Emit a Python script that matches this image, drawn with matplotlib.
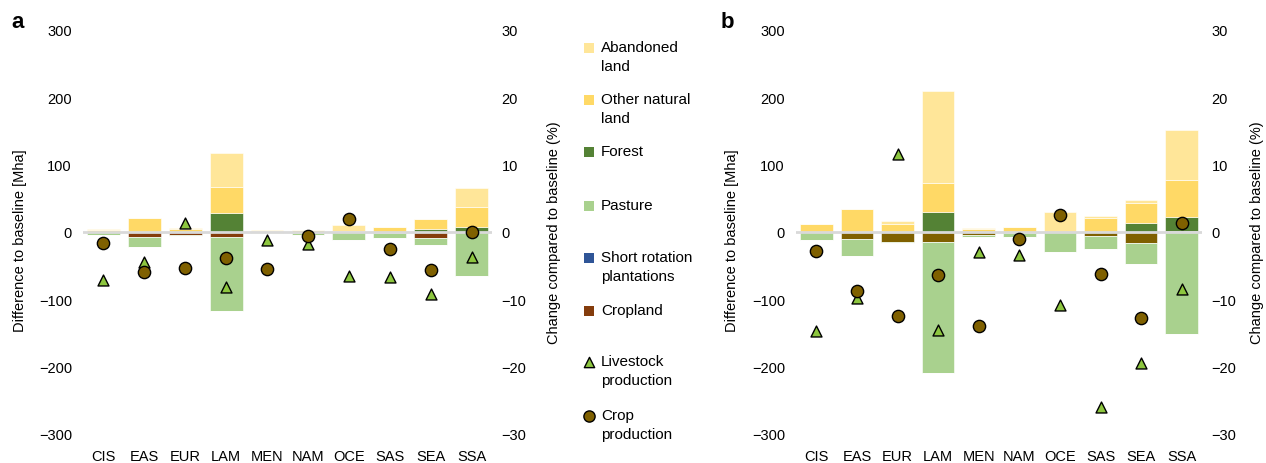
import matplotlib
matplotlib.use("Agg")
import matplotlib.pyplot as plt
import numpy as np

plt.rcParams['font.family'] = ['Liberation Sans', 'DejaVu Sans']

regions = ["CIS", "EAS", "EUR", "LAM", "MEN", "NAM", "OCE", "SAS", "SEA", "SSA"]

# ---- Panel a (Mha) ----
a_abandoned = [1.5, 0, 2, 50, 1, 0, 9, 1, 0, 27.5]
a_other     = [3, 21, 4.5, 39, 1.5, 3.5, 2, 7, 14.5, 29.5]
a_forest    = [0, 0, 0, 28, 0, 0, 0, 0, 5, 8]
a_pasture   = [-3.5, -15, -1.5, -109, -1, -3, -12, -7.5, -10.5, -65]
a_srp       = [0, 0, 0, 0, 0, 0, 0, 0, 0, 0]
a_cropland  = [-0.5, -7, -4, -8, -1, -1, 0, -1, -9.5, 0]
a_livestock = [-7.2, -4.4, 1.4, -8.1, -1.25, -1.75, -6.5, -6.65, -9.2, -3.7]
a_crop      = [-1.6, -5.9, -5.4, -3.8, -5.55, -0.65, 1.9, -2.5, -5.65, 0.0]

# ---- Panel b (Mha) ----
b_abandoned = [0, 0, 4, 136, 1.5, 0, 29.5, 3, 4, 75]
b_other     = [12, 34.5, 12, 43.5, 5, 7.5, 0, 21.5, 30, 54]
b_forest    = [0, 0, 0, 29.5, 0, 0, 0, 0, 13.5, 21]
b_pasture   = [-12, -24, -2, -194.5, -2, -5.5, -30, -19, -31, -152]
b_srp       = [0, 0, 0, 0, 0, 0, 0, 0, 0, 0]
b_cropland  = [0, -11, -14.5, -14.5, -5, -2, 0, -6, -17, 1.5]
b_livestock = [-14.7, -9.8, 11.6, -14.6, -3.0, -3.4, -10.85, -25.95, -19.5, -8.4]
b_crop      = [-2.75, -8.7, -12.5, -6.35, -13.95, -1.0, 2.55, -6.25, -12.75, 1.3]

legend_labels = ["Abandoned\nland", "Other natural\nland", "Forest", "Pasture",
                 "Short rotation\nplantations", "Cropland", "Livestock\nproduction",
                 "Crop\nproduction"]

C_ABAND = "#FFE699"
C_OTHER = "#FFD966"
C_FOREST = "#548235"
C_PASTURE = "#A9D18E"
C_SRP = "#2F5597"
C_CROP_A = "#843C0C"
C_CROP_B = "#7F6000"
C_LIVE = "#8DC63F"
C_CROPPROD = "#7F6000"

W, H = 1266, 464
fig = plt.figure(figsize=(W / 100, H / 100), dpi=100)

FS = 10.5


def panel(left_px, right_px, data, crop_color):
    bottom_px, top_px = 435, 31
    ax = fig.add_axes([left_px / W, 1 - bottom_px / H, (right_px - left_px) / W,
                       (bottom_px - top_px) / H])
    x = np.arange(len(regions))
    abandoned, other, forest, pasture, srp, cropland, livestock, crop = data
    layers = [(cropland, crop_color), (srp, C_SRP), (pasture, C_PASTURE),
              (forest, C_FOREST), (other, C_OTHER), (abandoned, C_ABAND)]
    pos = np.zeros(len(regions))
    neg = np.zeros(len(regions))
    for vals, col in layers:
        v = np.array(vals, dtype=float)
        vp = np.where(v > 0, v, 0)
        vn = np.where(v < 0, v, 0)
        ax.bar(x, vp, bottom=pos, width=0.8, color=col, edgecolor='white',
               linewidth=0.4, zorder=2)
        ax.bar(x, vn, bottom=neg, width=0.8, color=col, edgecolor='white',
               linewidth=0.4, zorder=2)
        pos += vp
        neg += vn
    ax.axhline(0, color='#D9D9D9', lw=2.0, zorder=3)
    ax.set_xlim(-0.5, 9.5)
    ax.set_ylim(-300, 300)
    ax.set_yticks(np.arange(-300, 301, 100))
    ax.set_xticks(x)
    ax.set_xticklabels(regions)
    for s in ax.spines.values():
        s.set_visible(False)
    ax.tick_params(axis='both', length=0, labelsize=FS)
    ax.tick_params(axis='y', pad=8)
    ax.tick_params(axis='x', pad=11)
    ax.set_ylabel("Difference to baseline [Mha]", fontsize=FS)

    ax2 = ax.twinx()
    ax2.set_ylim(-30, 30)
    ax2.set_yticks(np.arange(-30, 31, 10))
    for s in ax2.spines.values():
        s.set_visible(False)
    ax2.tick_params(axis='y', length=0, labelsize=FS, pad=7)
    ax2.scatter(x, livestock, marker='^', s=62, color=C_LIVE, edgecolor='black',
                linewidth=1.0, zorder=5)
    ax2.scatter(x, crop, marker='o', s=78, color=C_CROPPROD, edgecolor='black',
                linewidth=1.0, zorder=6)
    ax2.set_ylabel("Change compared to baseline (%)", fontsize=FS)
    return ax, ax2


axa, axa2 = panel(83, 492, [a_abandoned, a_other, a_forest, a_pasture, a_srp,
                            a_cropland, a_livestock, a_crop], C_CROP_A)
axa.yaxis.set_label_coords((27 - 83) / 409, 0.48)
axa2.yaxis.set_label_coords((547 - 83) / 409, 0.5)

axb, axb2 = panel(796, 1202, [b_abandoned, b_other, b_forest, b_pasture, b_srp,
                              b_cropland, b_livestock, b_crop], C_CROP_B)
axb.yaxis.set_label_coords((739 - 796) / 406, 0.48)
axb2.yaxis.set_label_coords((1250 - 796) / 406, 0.5)

fig.text(11 / W, 1 - 22 / H, "a", fontsize=16, fontweight='bold', va='center', ha='left')
fig.text(721 / W, 1 - 22 / H, "b", fontsize=16, fontweight='bold', va='center', ha='left')

# Legend drawn manually
lg = fig.add_axes([0, 0, 1, 1], zorder=-1)
lg.set_xlim(0, W)
lg.set_ylim(H, 0)
lg.axis('off')
leg_y = [49, 101, 153, 207, 259, 312, 363, 417]
leg_kind = ['s', 's', 's', 's', 's', 's', '^', 'o']
leg_col = [C_ABAND, C_OTHER, C_FOREST, C_PASTURE, C_SRP, C_CROP_A, C_LIVE, C_CROPPROD]
for yy, kind, col, lab in zip(leg_y, leg_kind, leg_col, legend_labels):
    if kind == 's':
        lg.scatter([589], [yy], marker='s', s=60, color=col, edgecolor='none')
    elif kind == '^':
        lg.scatter([589], [yy], marker='^', s=55, color=col, edgecolor='black', linewidth=1.0)
    else:
        lg.scatter([589], [yy], marker='o', s=65, color=col, edgecolor='black', linewidth=1.0)
    lg.text(601, yy - 8, lab, fontsize=11, va='top', ha='left', linespacing=1.45)

fig.savefig("out.png", dpi=100)
